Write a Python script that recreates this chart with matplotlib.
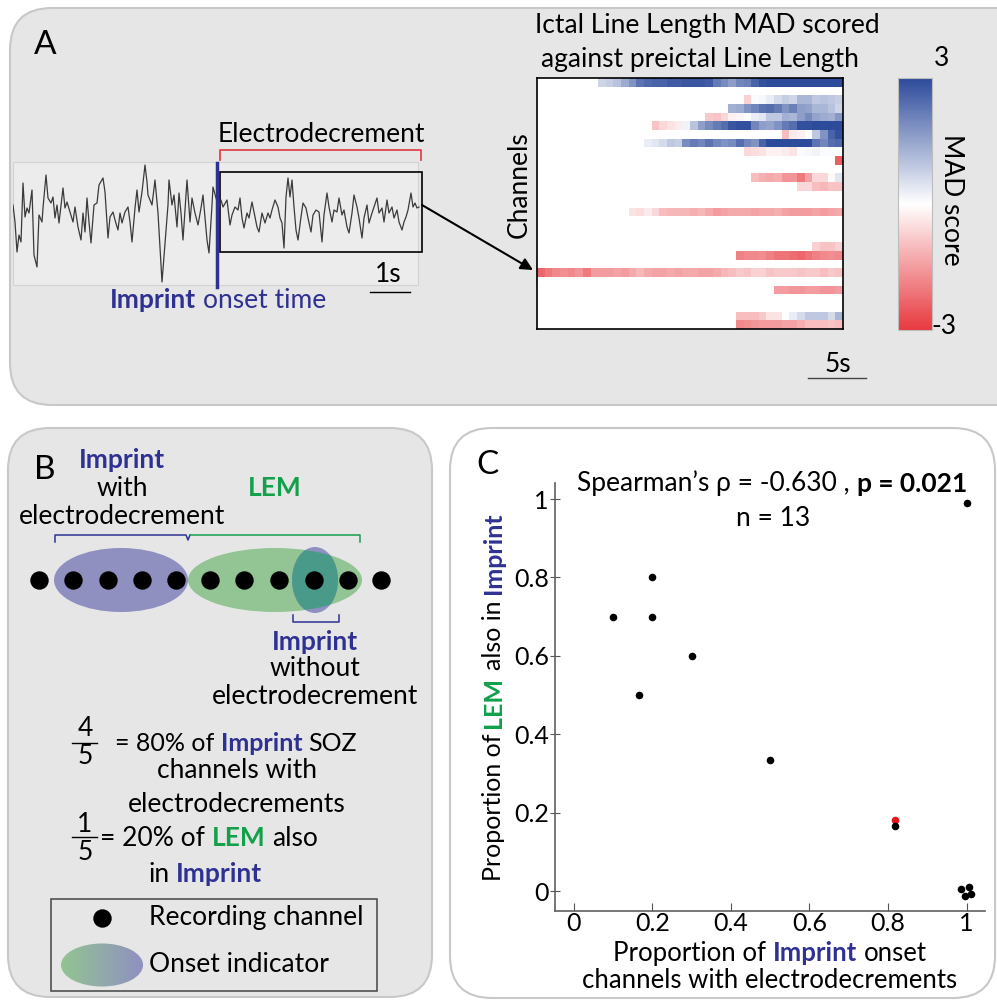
import numpy as np
import matplotlib
matplotlib.use('Agg')
import matplotlib.pyplot as plt
from matplotlib.patches import FancyBboxPatch, Ellipse, Rectangle
from matplotlib.colors import LinearSegmentedColormap

FONT = 'Lato'
plt.rcParams['font.family'] = [FONT, 'DejaVu Sans']

BLUE = '#2e3192'
GREEN = '#12a04b'
PANEL = '#e6e6e6'
EDGE = '#c8c8c8'
FS = 19

# ---------------- data ----------------
# EEG trace (sampled at 40 Hz, amplitude in arbitrary units)
eeg_fs = 40.0
eeg_sample = [0, 2, 4, 6, 8, 10, 12, 14, 16, 19,
              21, 24, 26, 29, 30, 33, 35, 38, 40, 42,
              44, 46, 50, 52, 54, 57, 60, 62, 65, 68,
              70, 72, 74, 76, 78, 81, 84, 86, 90, 92,
              95, 97, 100, 102, 105, 107, 109, 112, 115, 117,
              119, 122, 124, 126, 129, 132, 134, 135, 139, 142,
              145, 149, 152, 155, 156, 159, 161, 164, 166, 168,
              170, 174, 177, 179, 182, 185, 188, 190, 194, 196,
              199, 200, 203, 206, 208, 210, 214, 217, 219, 222,
              225, 227, 229, 231, 234, 236, 239, 241, 244, 246,
              249, 252, 255, 257, 259, 262, 265, 267, 269, 271,
              273, 275, 277, 279, 281, 283, 285, 288, 290, 293,
              295, 298, 300, 303, 306, 309, 311, 314, 316, 319,
              321, 324, 326, 329, 331, 334, 336, 339, 341, 344,
              346, 349, 351, 354, 356, 359, 361, 364, 366, 369,
              371, 374, 376, 379, 381, 384, 386, 389, 391, 393,
              395, 398, 400, 402, 404, 406]
eeg_amp = [10, -7, -37, -20, -27, 32, -2, 7, 2, 25,
           -40, -52, 0, -7, 7, 40, 17, 12, 18, -3,
           10, -8, 27, 7, 13, 3, -7, 8, -12, -25,
           2, -17, 17, -7, -28, 10, 12, 30, 37, 23,
           -23, -2, 3, -5, -15, 2, -8, 3, 8, -7,
           -27, 7, 25, 3, 23, 50, 33, 20, 10, 35,
           2, -67, -28, 10, 35, 10, 20, -12, 22, 2,
           -25, 35, -7, 17, 2, -10, 7, 20, -25, -38,
           10, 28, 17, 8, 15, 8, 15, -10, 0, 8,
           5, 17, -3, -13, 2, -3, 13, 3, -12, -17,
           2, -8, 2, -3, 5, 15, 8, -3, -8, -33,
           18, 37, 18, 35, 8, -15, -25, -2, 12, 7,
           -3, -17, 0, 5, 3, -27, 0, 22, 8, -7,
           5, 3, 17, 0, 5, -12, -18, 2, 20, 8,
           -3, -23, -3, 10, -8, 2, 8, 17, 2, 7,
           -7, 15, 2, 8, -3, 5, -7, -15, -7, -2,
           5, 22, 8, 12, 7, 8]
onset_time_s = 5.1
decrement_window_s = (5.175, 10.225)
decrement_amp_range = (-37, 43)

# Heatmap of MAD scores (channels x time windows); blank = not scored
n_channels = 29
n_windows = 40
row_index = [0, 2, 3, 4, 5, 6, 7, 8, 9, 11, 12, 15, 19, 20, 22, 24, 27, 28]
row_start = [8, 27, 25, 22, 15, 32, 14, 27, 39, 28, 34, 12, 36, 26, 0, 31, 26, 26]
mad_ch00 = [0.7, 0.8, 1.0, 1.4, 1.8, 2.3, 2.5, 2.6, 2.6, 2.7, 2.7, 2.8, 2.8, 2.8, 2.7, 2.2,
            1.9, 1.6, 2.0, 2.1, 2.6, 2.9, 3, 3, 3, 3, 3, 3, 3, 3, 3, 3]
mad_ch02 = [-0.7, 0.05, 0.1, 0.3, 0.6, 0.8, 0.7, 1.2, 1.2, 0.9, 1.0, 0.9, 0.8]
mad_ch03 = [1.3, 1.4, 1.8, 2.0, 2.3, 2.4, 2.2, 1.8, 2.1, 1.6, 1.5, 1.2, 1.2, 1.0, 0.7]
mad_ch04 = [-0.8, -0.9, -0.6, -0.2, -0.15, 0.05, 0.3, 0.4, 0.9, 0.9, 1.3, 1.2, 1.6, 1.9,
            1.5, 1.4, 1.3, 1.7]
mad_ch05 = [-0.9, -0.6, -0.4, -0.3, 0.2, 1.0, 1.6, 1.9, 2.2, 2.4, 2.8, 2.9, 2.9, 2.0, 1.6,
            1.5, 1.8, 2.2, 2.4, 2.9, 2.9, 3, 3, 3, 3]
mad_ch06 = [-1.0, -0.3, -0.2, 0.0, 0.9, 1.8, 2.6, 2.9]
mad_ch07 = [0.3, 0.4, 0.6, 0.9, 0.8, 1.9, 2.2, 2.0, 2.3, 2.0, 1.8, 1.9, 2.4, 2.0, 1.8, 2.6,
            3, 3, 3, 3, 3, 3, 2.3, 2.0, 2.4, 2.5]
mad_ch08 = [-0.6, -0.5, -0.4, -0.2, -0.2, -0.3, -0.4, 0.05, 0.1, 0.2, 0.05, 0.05, 0.05]
mad_ch09 = [-2.4]
mad_ch11 = [-1.0, -1.2, -1.3, -1.2, -1.6, -1.6, -2.0, -1.4, -0.6, -0.6, -0.1, 0.4]
mad_ch12 = [-0.6, -0.6, -1.0, -1.1, -0.9, -0.9]
mad_ch15 = [-0.4, -0.5, -0.3, -0.6, -1.0, -1.1, -1.1, -1.1, -1.2, -1.1, -1.3, -1.5, -1.4, -1.3,
            -1.3, -1.3, -1.4, -1.3, -1.3, -1.2, -1.4, -1.5, -1.5, -1.5, -1.4, -1.5, -1.4, -1.3]
mad_ch19 = [-0.7, -0.9, -0.9, -0.7]
mad_ch20 = [-1.9, -1.8, -1.8, -1.7, -1.9, -2.1, -2.1, -2.2, -2.3, -2.1, -1.9, -1.8, -1.7, -1.8]
mad_ch22 = [-2.3, -2.0, -1.8, -1.7, -1.8, -1.6, -2.0, -1.5, -1.5, -1.5,
            -1.4, -1.5, -1.3, -1.1, -1.3, -1.4, -1.4, -1.3, -1.4, -1.3,
            -1.3, -1.4, -1.4, -1.3, -1.1, -1.0, -0.8, -0.9, -0.7, -0.7,
            -0.9, -0.8, -0.8, -0.8, -0.9, -0.8, -0.8, -1.0, -0.8, -0.9]
mad_ch24 = [-1.5, -1.5, -1.6, -1.6, -1.5, -1.5, -1.6, -1.6, -1.5]
mad_ch27 = [-1.0, -1.0, -1.0, -0.8, -0.4, -0.4, 0.0, 0.3, 0.6, 0.9, 0.9, 0.9, 0.6, 1.2]
mad_ch28 = [-1.8, -1.7, -1.6, -1.5, -1.5, -1.5, -1.4, -1.4, -1.2, -1.0, -1.0, -1.0, -0.9, -1.0]
mad_rows = [mad_ch00, mad_ch02, mad_ch03, mad_ch04, mad_ch05, mad_ch06, mad_ch07, mad_ch08,
            mad_ch09, mad_ch11, mad_ch12, mad_ch15, mad_ch19, mad_ch20, mad_ch22, mad_ch24,
            mad_ch27, mad_ch28]

# Scatter (panel C)
imprint_decrement_prop = [1.0, 0.2, 0.1, 0.2, 0.3, 0.167, 0.5, 0.818, 0.987, 1.005, 0.995, 1.011]
lem_in_imprint_prop = [0.99, 0.8, 0.7, 0.7, 0.6, 0.5, 0.333, 0.167, 0.005, 0.011, -0.013, -0.008]
highlight_x = [0.818]
highlight_y = [0.18]
x_ticks = [0, 0.2, 0.4, 0.6, 0.8, 1.0]
x_ticklabels = ['0', '0.2', '0.4', '0.6', '0.8', '1']
y_ticks = [0, 0.2, 0.4, 0.6, 0.8, 1.0]
y_ticklabels = ['0', '0.2', '0.4', '0.6', '0.8', '1']

# ---------------- figure ----------------
W, H = 997, 1000
fig = plt.figure(figsize=(W / 100, H / 100), dpi=100)
fig.patch.set_facecolor('white')
bg = fig.add_axes([0, 0, 1, 1])
bg.set_xlim(0, W)
bg.set_ylim(H, 0)
bg.set_autoscale_on(False)
bg.axis('off')
renderer = fig.canvas.get_renderer()


def ax_rect(x0, y0, x1, y1):
    return [x0 / W, 1 - y1 / H, (x1 - x0) / W, (y1 - y0) / H]


def measure(txt, size, weight='normal'):
    t = fig.text(0, 0, txt, fontsize=size, fontweight=weight)
    w = t.get_window_extent(renderer).width
    t.remove()
    return w


def rich(x, y, segs, size=FS, ha='center', rot=0):
    em = size * 100 / 72
    sp = measure('a a', size) - measure('aa', size)
    items, total = [], 0
    for txt, col, wt in segs:
        lead = len(txt) - len(txt.lstrip(' '))
        trail = len(txt) - len(txt.rstrip(' '))
        core = txt.strip(' ')
        w = measure(core, size, wt)
        items.append((core, col, wt, total + lead * sp))
        total += lead * sp + w + trail * sp
    start = -total / 2 if ha == 'center' else 0
    for core, col, wt, off in items:
        d = start + off
        if rot == 0:
            px, py = x + d, y + 0.36 * em
        else:
            px, py = x + 0.36 * em, y - d
        bg.text(px, py, core, fontsize=size, color=col, fontweight=wt, rotation=rot,
                rotation_mode='anchor', ha='left', va='baseline')


def txt(x, y, s, size=FS, **kw):
    kw.setdefault('ha', 'center')
    kw.setdefault('va', 'center')
    bg.text(x, y, s, fontsize=size, **kw)


# panels
for (x0, y0, w, h, fc) in [(10, 8, 1030, 397, PANEL), (8, 428, 424, 569, PANEL),
                           (450, 428, 545, 570, 'white')]:
    bg.add_patch(FancyBboxPatch((x0, y0), w, h, boxstyle='round,pad=0,rounding_size=42',
                                fc=fc, ec=EDGE, lw=1.5))

# ---------------- Panel A ----------------
txt(45, 45, 'A', size=24)
bg.add_patch(Rectangle((13, 162), 405, 123, fc='#ececec', ec='#d2d2d2', lw=0.8))

ax_eeg = fig.add_axes(ax_rect(13, 150, 422, 295))
ax_eeg.set_xlim(0, 409 / eeg_fs)
ax_eeg.set_ylim(-80, 65)
ax_eeg.axis('off')
ax_eeg.plot(np.array(eeg_sample) / eeg_fs, eeg_amp, color='#3a3a3a', lw=0.9)
ax_eeg.axvline(onset_time_s, ymin=0.055, ymax=0.91, color=BLUE, lw=2.5)
ax_eeg.add_patch(Rectangle((decrement_window_s[0], decrement_amp_range[0]),
                           decrement_window_s[1] - decrement_window_s[0],
                           decrement_amp_range[1] - decrement_amp_range[0],
                           fc='none', ec='black', lw=1.2, clip_on=False))

# red bracket
bg.plot([220, 220, 421, 421], [160, 150, 150, 160], color='#e0454d', lw=1.3,
        solid_joinstyle='round')
txt(321, 134, 'Electrodecrement')
txt(388, 274, '1s')
bg.plot([370, 410], [292, 292], color='black', lw=1)
rich(218, 298, [('Imprint', BLUE, 'bold'), (' onset time', BLUE, 'normal')])

# arrow
bg.annotate('', xy=(533, 270), xytext=(422, 205),
            arrowprops=dict(arrowstyle='-|>', color='black', lw=1.5, mutation_scale=18,
                            shrinkA=0, shrinkB=0))

# heatmap
cmap = LinearSegmentedColormap.from_list('mad', ['#e73a40', '#ffffff', '#2d4b9b'])
cmap.set_bad('white')
mat = np.full((n_channels, n_windows), np.nan)
for r, s, vals in zip(row_index, row_start, mad_rows):
    mat[r, s:s + len(vals)] = vals
ax_hm = fig.add_axes(ax_rect(537, 78, 843, 329))
im = ax_hm.imshow(np.ma.masked_invalid(mat), cmap=cmap, vmin=-3, vmax=3, aspect='auto',
                  interpolation='nearest')
ax_hm.set_xticks([])
ax_hm.set_yticks([])
for sp_ in ax_hm.spines.values():
    sp_.set_color('black')
    sp_.set_linewidth(1.2)
bg.add_patch(Rectangle((537, 262), 61, 23, fc='none', ec='black', lw=1, zorder=5))

txt(707, 25, 'Ictal Line Length MAD scored')
txt(700, 59, 'against preictal Line Length')
txt(519, 185, 'Channels', rotation=90)

cax = fig.add_axes(ax_rect(898, 78, 932, 330))
cb = fig.colorbar(im, cax=cax)
cb.set_ticks([])
cb.outline.set_edgecolor('#bdbdbd')
cb.outline.set_linewidth(0.8)
txt(942, 58, '3')
txt(944, 326, '-3')
txt(951, 200, 'MAD score', rotation=-90)

txt(838, 364, '5s')
bg.plot([808, 866], [378, 378], color='#444444', lw=1)

# ---------------- Panel B ----------------
txt(45, 470, 'B', size=24)
rich(122, 459, [('Imprint', BLUE, 'bold')])
txt(122, 488, 'with')
txt(122, 516, 'electrodecrement')
rich(275, 486, [('LEM', GREEN, 'bold')])

bg.plot([55, 55, 186, 188, 190], [542, 535, 535, 540, 535], color=BLUE, lw=1.1)
bg.plot([190, 360, 360], [535, 535, 542], color=GREEN, lw=1.1)

blue_ell = Ellipse((121, 580), 134, 64, fc='#8f90c0', ec='none', zorder=2)
green_ell = Ellipse((275, 580), 174, 64, fc='#93c493', ec='none', zorder=2)
small_ell = Ellipse((315, 580), 46, 66, fc='#8f90c0', ec='none', zorder=2.1)
teal_ell = Ellipse((315, 580), 46, 66, fc='#4a9a8a', ec='none', zorder=2.2)
for p in (blue_ell, green_ell, small_ell, teal_ell):
    bg.add_patch(p)
teal_ell.set_clip_path(green_ell)

channel_x = [39, 73, 108, 142, 176, 210, 244, 279, 314, 348, 381]
bg.scatter(channel_x, [580] * len(channel_x), s=150, color='black', zorder=3)

bg.plot([293, 293, 339, 339], [615, 622, 622, 615], color=BLUE, lw=1.1)
rich(315, 640, [('Imprint', BLUE, 'bold')])
txt(315, 668, 'without')
txt(315, 696, 'electrodecrement')

txt(85, 729, '4')
txt(85, 757, '5')
bg.plot([72, 97], [743, 743], color='black', lw=1)
rich(115, 742, [('= 80% of ', 'black', 'normal'), ('Imprint', BLUE, 'bold'),
                (' SOZ', 'black', 'normal')], size=18, ha='left')
txt(237, 770, 'channels with')
txt(237, 804, 'electrodecrements')

txt(85, 825, '1')
txt(85, 852, '5')
bg.plot([72, 97], [837, 837], color='black', lw=1)
rich(100, 837, [('= 20% of ', 'black', 'normal'), ('LEM', GREEN, 'bold'),
                (' also', 'black', 'normal')], ha='left')
rich(148, 872, [('in ', 'black', 'normal'), ('Imprint', BLUE, 'bold')], ha='left')

bg.add_patch(Rectangle((51, 899), 326, 92, fc='none', ec='#444444', lw=1.1))
bg.scatter([102], [918], s=150, color='black', zorder=3)
txt(149, 918, 'Recording channel', ha='left')
leg_ell = Ellipse((102, 965), 82, 43, fc='none', ec='none')
bg.add_patch(leg_ell)
gcmap = LinearSegmentedColormap.from_list('g', ['#93c493', '#8f90c0'])
gim = bg.imshow(np.linspace(0, 1, 100)[None, :], extent=(61, 143, 987, 943), cmap=gcmap,
                aspect='auto', zorder=2)
gim.set_clip_path(leg_ell)
txt(149, 965, 'Onset indicator', ha='left')

# ---------------- Panel C ----------------
txt(487, 465, 'C', size=24)
ax_sc = fig.add_axes(ax_rect(555, 483, 985, 911))
ax_sc.patch.set_visible(False)
ax_sc.scatter(imprint_decrement_prop, lem_in_imprint_prop, s=30, color='black', zorder=3,
              linewidths=0)
ax_sc.scatter(highlight_x, highlight_y, s=30, color='#e8141c', zorder=2, linewidths=0)
ax_sc.set_xlim(-0.048, 1.047)
ax_sc.set_ylim(-0.051, 1.041)
ax_sc.set_xticks(x_ticks)
ax_sc.set_xticklabels(x_ticklabels)
ax_sc.set_yticks(y_ticks)
ax_sc.set_yticklabels(y_ticklabels)
ax_sc.tick_params(axis='x', direction='in', length=6, pad=0.5, labelsize=18, color='#555555')
ax_sc.tick_params(axis='y', direction='inout', length=7, pad=1, labelsize=18, color='#555555')
for side in ('top', 'right'):
    ax_sc.spines[side].set_visible(False)
for side in ('left', 'bottom'):
    ax_sc.spines[side].set_color('#606060')
    ax_sc.spines[side].set_linewidth(1.2)

rich(772, 482, [("Spearman\u2019s \u03c1 = -0.630 , ", 'black', 'normal'),
                ('p = 0.021', 'black', 'bold')])
txt(773, 518, 'n = 13')
rich(492, 697, [('Proportion of ', 'black', 'normal'), ('LEM', GREEN, 'bold'),
                (' also in ', 'black', 'normal'), ('Imprint', BLUE, 'bold')], size=18, rot=90)
rich(770, 952, [('Proportion of ', 'black', 'normal'), ('Imprint', BLUE, 'bold'),
                (' onset', 'black', 'normal')], size=18.5)
txt(770, 980, 'channels with electrodecrements', size=18.5)

bg.set_xlim(0, W)
bg.set_ylim(H, 0)
fig.savefig('out.png', dpi=100)
